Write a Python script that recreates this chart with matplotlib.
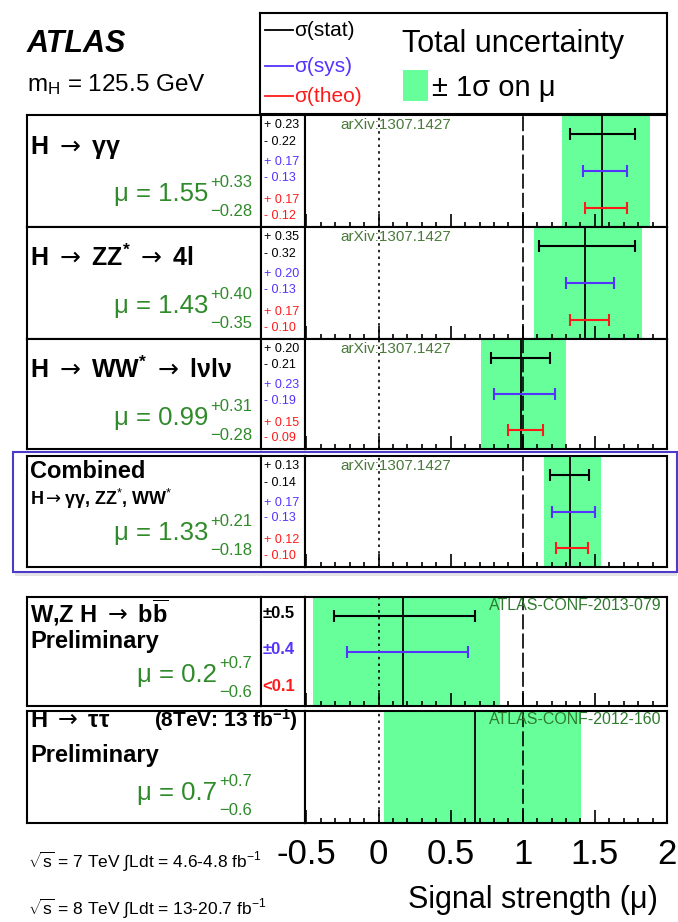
import matplotlib
matplotlib.use('Agg')
import matplotlib.pyplot as plt
from matplotlib import font_manager
from matplotlib.patches import Rectangle
from matplotlib.ticker import FixedLocator, MultipleLocator, FuncFormatter

ARR = '$\\mathsf{\\rightarrow}$'
titles = ['H ' + ARR + ' γγ', 'H ' + ARR + ' ZZ$^{\\mathbf{*}}$ ' + ARR + ' 4l',
          'H ' + ARR + ' WW$^{\\mathbf{*}}$ ' + ARR + ' lνlν']
mu_val = [1.55, 1.43, 0.99, 1.33, 0.17, 0.67]
tot_up = [0.33, 0.40, 0.31, 0.21, 0.675, 0.735]
tot_dn = [0.28, 0.35, 0.28, 0.18, 0.625, 0.635]
stat_up = [0.23, 0.35, 0.20, 0.13, 0.50]
stat_dn = [0.22, 0.32, 0.21, 0.14, 0.48]
sys_up = [0.17, 0.20, 0.23, 0.17, 0.45]
sys_dn = [0.13, 0.13, 0.19, 0.13, 0.39]
theo_up = [0.17, 0.17, 0.15, 0.12]
theo_dn = [0.12, 0.10, 0.09, 0.10]
mu_text = ['1.55', '1.43', '0.99', '1.33', '0.2', '0.7']
mu_up_text = ['+0.33', '+0.40', '+0.31', '+0.21', '+0.7', '+0.7']
mu_dn_text = ['−0.28', '−0.35', '−0.28', '−0.18', '−0.6', '−0.6']
bb_err_text = ['±0.5', '±0.4', '<0.1']
refs = ['arXiv:1307.1427'] * 4 + ['ATLAS-CONF-2013-079', 'ATLAS-CONF-2012-160']
xticks = [-0.5, 0, 0.5, 1, 1.5, 2]

# layout (pixels of the 678x922 canvas)
W, H = 678, 922
panel_top = [115, 227, 339, 456, 597, 711]
panel_bot = [227, 339, 449, 567, 706, 823]
mu_base = [201, 313, 425, 540, 682, 800]

GREEN = '#66ff99'
TXTGREEN = '#2f8a2a'
BLUE = '#5533ff'
RED = '#ff1a1a'

_names = {f.name for f in font_manager.fontManager.ttflist}
COND = 'Liberation Sans Narrow' if 'Liberation Sans Narrow' in _names else 'Liberation Sans'
cf = 1.22 if COND.endswith('Narrow') else 1.0

plt.rcParams['font.family'] = ['Liberation Sans', 'DejaVu Sans']
plt.rcParams['mathtext.fontset'] = 'custom'
plt.rcParams['mathtext.rm'] = COND
plt.rcParams['mathtext.bf'] = COND + ':bold'
plt.rcParams['mathtext.it'] = COND + ':italic'
plt.rcParams['mathtext.sf'] = 'DejaVu Sans'
plt.rcParams['axes.unicode_minus'] = False

fig = plt.figure(figsize=(W / 100, H / 100), dpi=100)


def px_axes(x0, y0, x1, y1):
	ax = fig.add_axes([x0 / W, 1 - y1 / H, (x1 - x0) / W, (y1 - y0) / H])
	for s in ax.spines.values():
		s.set_linewidth(1.5)
	return ax


def ftext(x, y, s, **kw):
	kw.setdefault('va', 'baseline')
	return fig.text(x / W, 1 - y / H, s, **kw)


def blank(ax):
	ax.set_xticks([])
	ax.set_yticks([])


# header
ftext(27, 52, 'ATLAS', fontsize=22, fontweight='bold', fontstyle='italic')
ftext(27, 91, 'm$_{\\mathrm{H}}$ = 125.5 GeV', fontsize=17.5)

lg = px_axes(260, 13, 667, 114)
blank(lg)
lg.set_xlim(260, 667)
lg.set_ylim(114, 13)
for yy, col, lab in [(30, 'k', 'σ(stat)'), (66, BLUE, 'σ(sys)'), (96, RED, 'σ(theo)')]:
	lg.plot([265, 293], [yy, yy], color=col, lw=1.3)
	lg.text(294, yy, lab, color=col, fontsize=15, va='center')
lg.text(402, 52, 'Total uncertainty', fontsize=22, va='baseline')
lg.add_patch(Rectangle((403, 70), 25, 31, color=GREEN, lw=0))
lg.text(432, 96, '± 1σ on μ', fontsize=21, va='baseline')

# panels
renderer = fig.canvas.get_renderer()
for i in range(6):
	top, bot = panel_top[i], panel_bot[i]

	# label box
	lab_right = 305 if i == 5 else 261
	la = px_axes(27, top, lab_right, bot)
	blank(la)

	# numbers column
	if i < 5:
		na = px_axes(261, top, 305, bot)
		blank(na)
		if i < 4:
			rows = [(f'+ {stat_up[i]:.2f}', 'k'), (f'- {stat_dn[i]:.2f}', 'k'),
			        (f'+ {sys_up[i]:.2f}', BLUE), (f'- {sys_dn[i]:.2f}', BLUE),
			        (f'+ {theo_up[i]:.2f}', RED), (f'- {theo_dn[i]:.2f}', RED)]
			for yy, (s, c) in zip([0.91, 0.76, 0.58, 0.44, 0.24, 0.10], rows):
				na.text(0.06, yy, s, color=c, fontsize=9, va='center', transform=na.transAxes)
		else:
			for yy, s, c in zip([0.85, 0.52, 0.18], bb_err_text, ['k', BLUE, RED]):
				na.text(0.03, yy, s, color=c, fontsize=12, fontweight='bold', va='center',
				        transform=na.transAxes)

	# plot area
	ax = px_axes(305, top, 667, bot)
	ax.set_xlim(-0.51, 2.0)
	ax.set_ylim(0, 1)
	ax.set_yticks([])
	ax.axvspan(mu_val[i] - tot_dn[i], mu_val[i] + tot_up[i], color=GREEN, lw=0, zorder=1)
	ax.axvline(0, color='k', lw=1.2, ls=(0, (1.5, 2.5)), zorder=2)
	ax.axvline(1, color='k', lw=1.2, ls=(0, (9, 2.5)), zorder=2)
	ax.axvline(mu_val[i], color='k', lw=1.3, zorder=3)
	bars = []
	if i < 5:
		bars.append((0.83, stat_dn[i], stat_up[i], 'k'))
		bars.append((0.50, sys_dn[i], sys_up[i], BLUE))
	if i < 4:
		bars.append((0.17, theo_dn[i], theo_up[i], RED))
	for yy, dn, up, c in bars:
		ax.errorbar(mu_val[i], yy, xerr=[[dn], [up]], fmt='none', ecolor=c,
		            elinewidth=1.5, capsize=4.5, capthick=1.5, zorder=4)
	ax.xaxis.set_major_locator(FixedLocator(xticks))
	ax.xaxis.set_minor_locator(MultipleLocator(0.1))
	ax.tick_params(axis='x', which='both', direction='in', top=False, width=1.2)
	ax.tick_params(axis='x', which='major', length=9.5, pad=11, labelsize=25)
	ax.tick_params(axis='x', which='minor', length=3.6)
	if i == 5:
		ax.xaxis.set_major_formatter(FuncFormatter(lambda v, p: f'{v:g}'))
	else:
		ax.tick_params(axis='x', labelbottom=False)
	if i < 4:
		ax.text(0.097, 0.97, refs[i], transform=ax.transAxes, fontsize=11,
		        color='#4a7a3a', va='top', ha='left', zorder=5)
	else:
		ax.text(0.986, 0.995, refs[i], transform=ax.transAxes, fontsize=11.5,
		        color='#2f7a2f', va='top', ha='right', zorder=5)

	# mu = value (+up, -down) in green
	b = mu_base[i]
	sup = ftext(252, b - 14, mu_up_text[i], color=TXTGREEN, fontsize=12 * cf,
	            family=[COND, 'DejaVu Sans'], ha='right')
	sub = ftext(252, b + 15, mu_dn_text[i], color=TXTGREEN, fontsize=12 * cf,
	            family=[COND, 'DejaVu Sans'], ha='right')
	left = min(sup.get_window_extent(renderer).x0, sub.get_window_extent(renderer).x0)
	ftext(left - 2, b, 'μ = ' + mu_text[i], color=TXTGREEN, fontsize=18.5 * cf,
	      family=[COND, 'DejaVu Sans'], ha='right')

# channel labels
for i in range(3):
	ftext(30, panel_top[i] + 39, titles[i], fontsize=18 * cf, fontweight='bold',
	      family=[COND, 'DejaVu Sans'])
ftext(30, 478, 'Combined', fontsize=17, fontweight='bold')
ftext(30, 505, 'H' + ARR + 'γγ, ZZ$^{*}$, WW$^{*}$', fontsize=13 * cf, fontweight='bold',
      family=[COND, 'DejaVu Sans'])
ftext(30, 622, 'W,Z H ' + ARR + ' b$\\overline{\\mathbf{b}}$', fontsize=17, fontweight='bold')
ftext(30, 648, 'Preliminary', fontsize=17, fontweight='bold')
ftext(30, 727, 'H ' + ARR + ' ττ', fontsize=17 * cf, fontweight='bold', family=[COND, 'DejaVu Sans'])
ftext(298, 727, '(8TeV: 13 fb$^{\\mathbf{-1}}$)', fontsize=15, fontweight='bold', ha='right')
ftext(30, 762, 'Preliminary', fontsize=17, fontweight='bold')

# frame around the combined result, with a faint shadow under it
fig.add_artist(Rectangle((15 / W, 1 - 576 / H), (677 - 15) / W, 4 / H,
                         transform=fig.transFigure, color='#e4e4e4', lw=0))
fig.add_artist(Rectangle((13 / W, 1 - 572 / H), (677 - 13) / W, (572 - 452) / H,
                         transform=fig.transFigure, fill=False, ec='#4a3cc8', lw=1.5))

# axis title and energy / lumi notes
ftext(658, 908, 'Signal strength (μ)', fontsize=22, ha='right')
ftext(28, 868, '$\\sqrt{\\mathrm{s}}$ = 7 TeV $\\int$Ldt = 4.6-4.8 fb$^{-1}$',
      fontsize=12.5, family=[COND, 'DejaVu Sans'])
ftext(28, 915, '$\\sqrt{\\mathrm{s}}$ = 8 TeV $\\int$Ldt = 13-20.7 fb$^{-1}$',
      fontsize=12.5, family=[COND, 'DejaVu Sans'])

fig.savefig('out.png', dpi=100)
